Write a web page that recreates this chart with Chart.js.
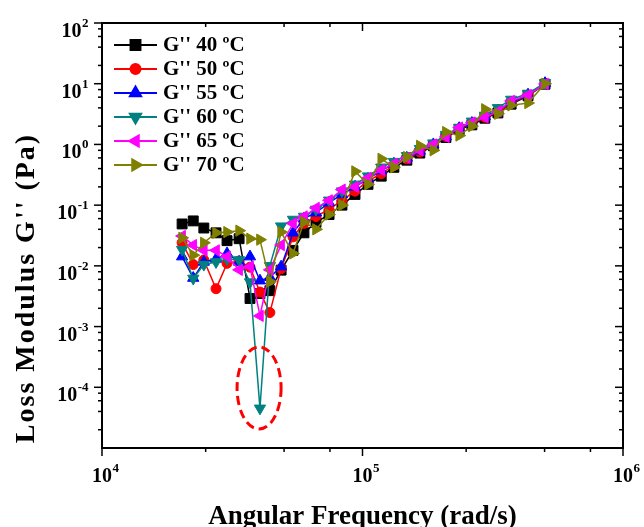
<!DOCTYPE html>
<html>
<head>
<meta charset="utf-8">
<script src="https://cdn.jsdelivr.net/npm/chart.js@4.4.1/dist/chart.umd.min.js"></script>
<style>
  html, body { margin: 0; padding: 0; background: #fff; }
  #wrap { width: 644px; height: 527px; }
</style>
</head>
<body>
<div id="wrap"><canvas id="c" width="644" height="527"></canvas></div>
<script>
// Angular frequency sweep (rad/s)
const frequency = [20300, 22400, 24600, 27400, 30200, 33600, 37000, 40400, 44100, 48700,
  54100, 59600, 66300, 74400, 83400, 93600, 105000, 118000, 132000, 148000,
  166000, 187000, 209000, 235000, 263000, 295000, 331000, 372000, 432000, 502000];

// Loss modulus G'' (Pa) per temperature
const g40 = [0.049, 0.055, 0.042, 0.035, 0.026, 0.028, 0.0029, 0.0035, 0.0039, 0.0085,
  0.018, 0.035, 0.052, 0.07, 0.1, 0.15, 0.22, 0.3, 0.42, 0.55,
  0.72, 0.95, 1.3, 1.75, 2.1, 2.7, 3.3, 4.6, 6.3, 9.8];
const g50 = [0.024, 0.0105, 0.0125, 0.0042, 0.011, 0.012, 0.0095, 0.0037, 0.0017, 0.009,
  0.03, 0.05, 0.065, 0.085, 0.12, 0.17, 0.25, 0.33, 0.45, 0.58,
  0.75, 0.98, 1.35, 1.8, 2.2, 2.8, 3.4, 4.8, 6.5, 10];
const g55 = [0.0142, 0.0063, 0.0116, 0.013, 0.016, 0.0116, 0.0142, 0.0057, 0.0065, 0.0097,
  0.035, 0.06, 0.075, 0.11, 0.15, 0.2, 0.27, 0.37, 0.48, 0.6,
  0.78, 1.0, 1.35, 1.85, 2.25, 2.9, 3.6, 4.9, 6.6, 10.2];
const g60 = [0.0185, 0.0062, 0.0105, 0.0116, 0.013, 0.0125, 0.0054, 0.000045, 0.010, 0.045,
  0.058, 0.065, 0.085, 0.12, 0.17, 0.22, 0.3, 0.42, 0.52, 0.65,
  0.85, 1.05, 1.45, 1.9, 2.4, 3.0, 4.0, 5.5, 6.9, 10.3];
const g65 = [0.031, 0.022, 0.018, 0.018, 0.0142, 0.0086, 0.0097, 0.0015, 0.0086, 0.022,
  0.05, 0.065, 0.09, 0.12, 0.18, 0.2, 0.28, 0.38, 0.48, 0.6,
  0.8, 1.0, 1.33, 1.9, 2.3, 2.8, 3.5, 5.2, 6.5, 9.9];
const g70 = [0.029, 0.015, 0.024, 0.035, 0.036, 0.038, 0.028, 0.027, 0.0055, 0.036,
  0.016, 0.053, 0.04, 0.07, 0.1, 0.36, 0.22, 0.58, 0.42, 0.62,
  0.95, 0.8, 1.6, 1.4, 2.0, 3.8, 3.2, 4.4, 4.8, 10];

const seriesLabels = ["G'' 40 ºC", "G'' 50 ºC", "G'' 55 ºC", "G'' 60 ºC", "G'' 65 ºC", "G'' 70 ºC"];

// axis ticks
const xTickValues = [1e4, 1e5, 1e6];
const xTickExps = ['4', '5', '6'];
const xMinorValues = [2.5e4, 5e4, 7.5e4, 2.5e5, 5e5, 7.5e5];
const yTickValues = [1e-4, 1e-3, 1e-2, 1e-1, 1e0, 1e1, 1e2];
const yTickExps = ['-4', '-3', '-2', '-1', '0', '1', '2'];
const yMinorMantissas = [2, 4, 6, 8];

// dashed ring around the 60 ºC dip (data bounds)
const ringX = [3.3e4, 4.87e4];
const ringY = [2.05e-5, 4.6e-4];

const FONT = '"Liberation Serif", "Times New Roman", serif';

const styles = [
  { color: '#000000', pointStyle: 'rect', radius: 7, rotation: 0 },
  { color: '#FF0000', pointStyle: 'circle', radius: 5, rotation: 0 },
  { color: '#0000FF', pointStyle: 'triangle', radius: 6.5, rotation: 0 },
  { color: '#008080', pointStyle: 'triangle', radius: 6.5, rotation: 180 },
  { color: '#FF00FF', pointStyle: 'triangle', radius: 6.5, rotation: -90 },
  { color: '#808000', pointStyle: 'triangle', radius: 6.5, rotation: 90 },
];

const allSeries = [g40, g50, g55, g60, g65, g70];
const datasets = allSeries.map((vals, i) => ({
  label: seriesLabels[i],
  data: frequency.map((f, j) => ({ x: f, y: vals[j] })),
  borderColor: styles[i].color,
  backgroundColor: styles[i].color,
  borderWidth: 1.5,
  pointStyle: styles[i].pointStyle,
  pointRadius: styles[i].radius,
  pointRotation: styles[i].rotation,
  pointBorderWidth: 1,
  pointHoverRadius: styles[i].radius,
  tension: 0,
  // later temperatures sit on top, like the original plot
  order: allSeries.length - i,
}));

function drawPow(ctx, x, y, exp, align) {
  // "10" with raised exponent; (x, y) is the anchor of the base text
  ctx.font = 'bold 20px ' + FONT;
  const baseW = ctx.measureText('10').width;
  ctx.font = 'bold 13px ' + FONT;
  const expW = ctx.measureText(exp).width;
  let bx;
  if (align === 'center') bx = x - baseW / 2;
  else bx = x - baseW - expW; // right aligned block
  ctx.textAlign = 'left';
  ctx.textBaseline = 'alphabetic';
  ctx.font = 'bold 20px ' + FONT;
  ctx.fillText('10', bx, y);
  ctx.font = 'bold 13px ' + FONT;
  ctx.fillText(exp, bx + baseW + 0.5, y - 10);
}

const framePlugin = {
  id: 'frame',
  afterDatasetsDraw(chart) {
    const { ctx, chartArea: a, scales: { x, y } } = chart;
    ctx.save();
    // dashed ring
    const x0 = x.getPixelForValue(ringX[0]), x1 = x.getPixelForValue(ringX[1]);
    const y0 = y.getPixelForValue(ringY[1]), y1 = y.getPixelForValue(ringY[0]);
    ctx.beginPath();
    ctx.ellipse((x0 + x1) / 2, (y0 + y1) / 2, (x1 - x0) / 2, (y1 - y0) / 2, 0, 0, Math.PI * 2);
    ctx.strokeStyle = '#FF0000';
    ctx.lineWidth = 3;
    ctx.setLineDash([9, 5]);
    ctx.stroke();
    ctx.setLineDash([]);

    // legend
    const lx0 = a.left + 12, lx1 = a.left + 55, tx = a.left + 61;
    seriesLabels.forEach((lab, i) => {
      const ly = a.top + 22 + i * 24;
      const s = styles[i];
      ctx.strokeStyle = s.color;
      ctx.fillStyle = s.color;
      ctx.lineWidth = 2;
      ctx.beginPath();
      ctx.moveTo(lx0, ly);
      ctx.lineTo(lx1, ly);
      ctx.stroke();
      Chart.helpers.drawPoint(ctx, { pointStyle: s.pointStyle, radius: s.radius, rotation: s.rotation, borderWidth: 1 }, (lx0 + lx1) / 2, ly);
      ctx.fillStyle = '#000';
      ctx.font = 'bold 21px ' + FONT;
      ctx.textAlign = 'left';
      ctx.textBaseline = 'middle';
      ctx.fillText(lab, tx, ly + 1);
    });

    // frame
    ctx.strokeStyle = '#000';
    ctx.lineWidth = 2;
    ctx.strokeRect(a.left, a.top, a.right - a.left, a.bottom - a.top);

    ctx.lineWidth = 1.5;
    const tick = (x1, y1, x2, y2) => { ctx.beginPath(); ctx.moveTo(x1, y1); ctx.lineTo(x2, y2); ctx.stroke(); };
    // x ticks: outward at bottom, inward at top
    xTickValues.forEach(v => {
      const px = x.getPixelForValue(v);
      tick(px, a.bottom, px, a.bottom + 8);
      tick(px, a.top, px, a.top + 8);
    });
    xMinorValues.forEach(v => {
      const px = x.getPixelForValue(v);
      tick(px, a.bottom, px, a.bottom + 4);
      tick(px, a.top, px, a.top + 4);
    });
    // y ticks: outward at left, inward at right
    yTickValues.forEach(v => {
      const py = y.getPixelForValue(v);
      tick(a.left, py, a.left - 8, py);
      tick(a.right, py, a.right - 8, py);
    });
    for (let e = -5; e < 2; e++) {
      yMinorMantissas.forEach(m => {
        const py = y.getPixelForValue(m * Math.pow(10, e));
        tick(a.left, py, a.left - 4, py);
        tick(a.right, py, a.right - 4, py);
      });
    }

    // tick labels
    ctx.fillStyle = '#000';
    xTickValues.forEach((v, i) => {
      drawPow(ctx, x.getPixelForValue(v), a.bottom + 34, xTickExps[i], 'center');
    });
    yTickValues.forEach((v, i) => {
      drawPow(ctx, a.left - 14, y.getPixelForValue(v) + 14, yTickExps[i], 'right');
    });

    // axis titles
    ctx.font = 'bold 27px ' + FONT;
    ctx.textAlign = 'center';
    ctx.textBaseline = 'alphabetic';
    ctx.fillText('Angular Frequency (rad/s)', (a.left + a.right) / 2, 524);
    ctx.save();
    ctx.translate(34, 288);
    ctx.rotate(-Math.PI / 2);
    ctx.font = 'bold 28px ' + FONT;
    ctx.letterSpacing = '2px';
    ctx.fillText("Loss Modulus G'' (Pa)", 0, 0);
    ctx.restore();
    ctx.restore();
  }
};

new Chart(document.getElementById('c').getContext('2d'), {
  type: 'line',
  data: { datasets },
  options: {
    responsive: false,
    devicePixelRatio: 1,
    animation: false,
    layout: { padding: { left: 102, top: 23, right: 21, bottom: 79 } },
    scales: {
      x: { type: 'logarithmic', min: 1e4, max: 1e6, display: false },
      y: { type: 'logarithmic', min: 1e-5, max: 1e2, display: false },
    },
    plugins: { legend: { display: false }, tooltip: { enabled: false } },
  },
  plugins: [framePlugin],
});
</script>
</body>
</html>
